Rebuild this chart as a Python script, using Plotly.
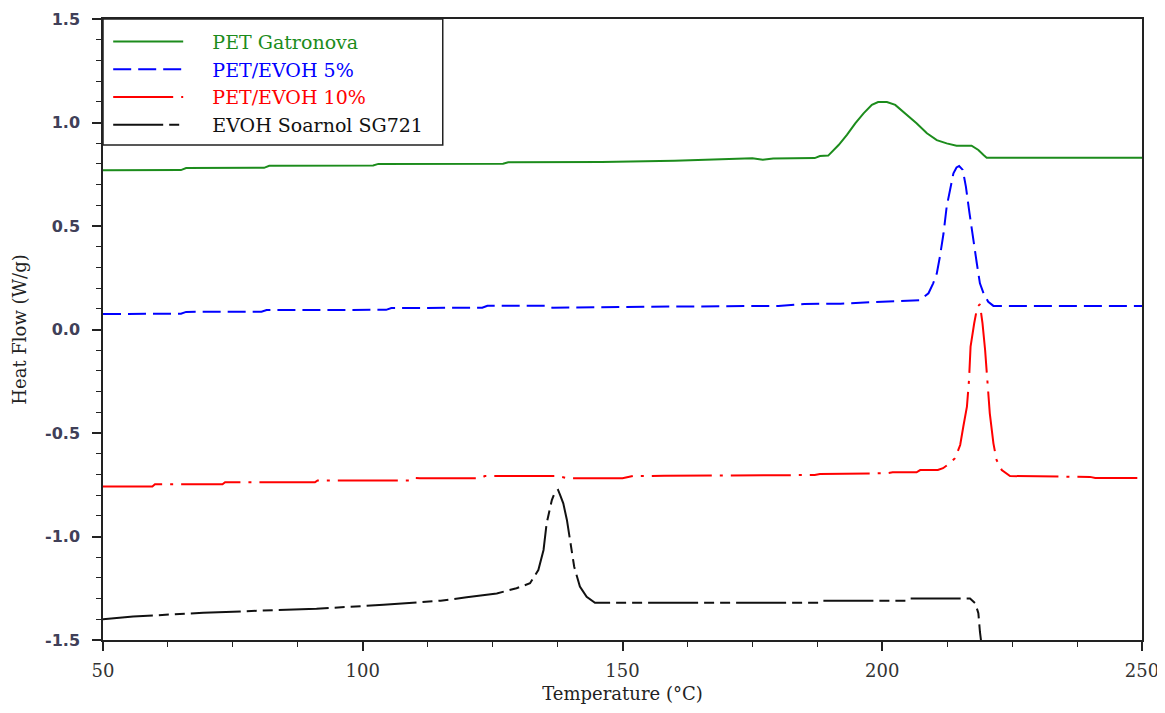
import plotly.graph_objects as go

# ---------------- data ----------------
green_T = [50, 65, 66, 81, 82, 102, 103, 127, 128, 146, 160, 172, 175, 177, 179, 187, 188, 189.6, 190.3,
           191.6, 193.2, 194.8, 196.4, 198, 199.2, 200.9, 202.5, 204.4, 206.6, 208.6, 210.5, 212.4, 214.3,
           217.2, 218.5, 219.5, 220.1, 250]
green_V = [0.769, 0.770, 0.780, 0.781, 0.791, 0.792, 0.800, 0.801, 0.808, 0.809, 0.815, 0.822, 0.827, 0.820,
           0.826, 0.828, 0.838, 0.840, 0.859, 0.891, 0.940, 0.996, 1.044, 1.085, 1.099, 1.099, 1.085, 1.044,
           0.996, 0.948, 0.915, 0.899, 0.888, 0.888, 0.867, 0.843, 0.830, 0.830]

blue_T = [50, 65, 66, 80.5, 81.5, 104.5, 105.5, 123, 124, 135.5, 136.5, 145, 155, 180, 185, 192, 199, 204,
          207.3, 207.9, 208.9, 209.8, 210.5, 211.1, 211.8, 212.4, 213.1, 213.7, 214.3, 214.8, 215.5, 216.1,
          216.8, 217.4, 218.2, 218.8, 219.5, 220.4, 221.4, 250]
blue_V = [0.075, 0.076, 0.085, 0.086, 0.094, 0.095, 0.104, 0.105, 0.115, 0.115, 0.105, 0.106, 0.110, 0.114,
          0.123, 0.125, 0.134, 0.138, 0.142, 0.155, 0.175, 0.223, 0.271, 0.352, 0.465, 0.593, 0.690, 0.755,
          0.783, 0.790, 0.771, 0.690, 0.561, 0.448, 0.320, 0.223, 0.175, 0.134, 0.114, 0.114]

red_T = [50, 59.5, 60, 73, 73.5, 90.8, 91.3, 109.7, 110.2, 111, 122.6, 123.5, 137.5, 139.5, 150, 152, 158,
         187, 188, 201, 202, 206.6, 207.3, 210.7, 211.7, 213, 214, 215, 215.6, 216.3, 216.7, 217.0, 217.7,
         218.3, 218.8, 219.3, 219.8, 220.2, 220.7, 221.4, 222.0, 223.0, 224.6, 240, 241, 250]
red_V = [-0.759, -0.759, -0.748, -0.748, -0.738, -0.738, -0.729, -0.729, -0.717, -0.718, -0.719, -0.708,
         -0.708, -0.719, -0.719, -0.708, -0.707, -0.703, -0.698, -0.694, -0.690, -0.690, -0.679, -0.679,
         -0.670, -0.646, -0.622, -0.558, -0.470, -0.373, -0.244, -0.083, 0.030, 0.110, 0.122, 0.030, -0.099,
         -0.244, -0.405, -0.550, -0.630, -0.679, -0.708, -0.712, -0.717, -0.718]

black_T = [50, 55.8, 69.3, 91.1, 104, 109.1, 115, 120, 122.9, 125.8, 129.6, 132.2, 133.8, 134.8, 135.4,
           136.4, 137.0, 137.6, 138.0, 138.6, 139.3, 140.0, 140.7, 141.8, 143.1, 144.7, 187.7, 188.2, 204.7,
           205.2, 216.9, 217.9, 218.5, 218.8, 219.0]
black_V = [-1.400, -1.387, -1.368, -1.349, -1.330, -1.320, -1.310, -1.294, -1.284, -1.275, -1.250, -1.226,
           -1.162, -1.065, -0.936, -0.824, -0.785, -0.775, -0.800, -0.840, -0.920, -1.033, -1.146, -1.242,
           -1.291, -1.320, -1.320, -1.310, -1.310, -1.300, -1.300, -1.323, -1.370, -1.460, -1.500]

series_names = ["PET Gatronova", "PET/EVOH 5%", "PET/EVOH 10%", "EVOH Soarnol SG721"]
x_ticks = [50, 100, 150, 200, 250]
y_ticks = [1.5, 1.0, 0.5, 0.0, -0.5, -1.0, -1.5]

# ---------------- styling ----------------
colors = ["#1c8c1c", "#0000ff", "#ff0000", "#111111"]
dashes = ["solid", "18px,7px", "60px,8px,3px,8px", "50px,6px,10px,6px,10px,6px"]
serif = "DejaVu Serif"
pad = "\u00a0" * 4

fig = go.Figure()
for T, V, name, c, d in zip([green_T, blue_T, red_T, black_T],
                            [green_V, blue_V, red_V, black_V],
                            series_names, colors, dashes):
    fig.add_trace(go.Scatter(
        x=T, y=V, mode="lines",
        name='%s<span style="color:%s">%s</span>' % (pad, c, name),
        line=dict(color=c, width=2, dash=d),
    ))

fig.update_layout(
    width=1165, height=713,
    margin=dict(l=95, r=31, t=11, b=81),
    paper_bgcolor="white", plot_bgcolor="white",
    showlegend=True,
    legend=dict(
        x=0.005, y=0.994, xanchor="left", yanchor="top",
        bgcolor="rgba(0,0,0,0)", borderwidth=0,
        font=dict(family=serif, size=19, color="#222"),
        itemwidth=70, tracegroupgap=0,
    ),
    shapes=[dict(type="rect", xref="paper", yref="paper",
                 x0=0, x1=0.327, y0=0.797, y1=1.0,
                 line=dict(color="#222", width=1.5), fillcolor="white", layer="below")],
)

fig.update_xaxes(
    range=[50, 250], tickvals=x_ticks, ticktext=[str(v) for v in x_ticks],
    showgrid=False, zeroline=False, automargin=False,
    showline=True, linecolor="#222", linewidth=1.5, mirror=True,
    ticks="outside", ticklen=9, tickwidth=1.5, tickcolor="#222",
    minor=dict(dtick=12.5, tick0=50, ticks="outside", ticklen=5, tickwidth=1.2, tickcolor="#222"),
    tickfont=dict(family=serif, size=18, color="#333"),
    ticklabelstandoff=5,
    title=dict(text="Temperature (°C)", font=dict(family=serif, size=18, color="#222"), standoff=7),
)
fig.update_yaxes(
    range=[-1.5, 1.5], tickvals=y_ticks, ticktext=["%.1f" % v for v in y_ticks],
    showgrid=False, zeroline=False, automargin=False,
    showline=True, linecolor="#222", linewidth=1.5, mirror=True,
    ticks="outside", ticklen=9, tickwidth=1.5, tickcolor="#222",
    minor=dict(dtick=0.1, tick0=0, ticks="outside", ticklen=5, tickwidth=1.2, tickcolor="#222"),
    tickfont=dict(family="DejaVu Sans", size=16, color="#404058", weight="bold"),
    ticklabelstandoff=9,
    title=dict(text="Heat Flow (W/g)", font=dict(family=serif, size=18, color="#222"), standoff=14),
)

fig.write_html("out.html")
